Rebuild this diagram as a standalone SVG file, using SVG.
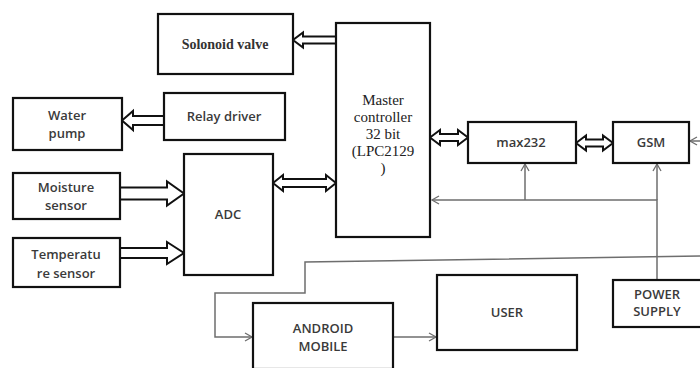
<svg xmlns="http://www.w3.org/2000/svg" width="700" height="368" viewBox="0 0 700 368">
<defs>
<style>
.box{fill:#fff;stroke:#111;stroke-width:2.2}
.blk{fill:#fff;stroke:#111;stroke-width:2;stroke-linejoin:miter}
.thin{fill:none;stroke:#6e6e6e;stroke-width:1.5}
.serif{font-family:"Liberation Serif","Times New Roman",serif;font-weight:bold;font-size:14px;fill:#333;text-anchor:middle}
.mc{font-family:"Liberation Serif","Times New Roman",serif;font-size:15px;fill:#222;text-anchor:middle}
.sans{font-family:"Open Sans","Liberation Sans",Arial,sans-serif;font-weight:600;font-size:13px;fill:#3a3a3a;text-anchor:middle}
</style>
<marker id="ah" markerWidth="10" markerHeight="10" refX="8" refY="5" orient="auto" markerUnits="userSpaceOnUse">
<path d="M1,1 L8,5 L1,9" fill="none" stroke="#6e6e6e" stroke-width="1.3"/>
</marker>
</defs>
<rect width="700" height="368" fill="#fff"/>

<g id="connectors">
<path class="blk" d="M336,36.5 L303,36.5 L303,32.5 L293,40 L303,47.5 L303,43.5 L336,43.5"/>
<path class="blk" d="M164,116 L133,116 L133,111 L122,120.5 L133,130 L133,125 L164,125"/>
<path class="blk" d="M120,187.5 L167,187.5 L167,181.5 L184,193.5 L167,205.5 L167,199.5 L120,199.5"/>
<path class="blk" d="M120,248 L167,248 L167,242 L184,253 L167,264 L167,258 L120,258"/>
<path class="blk" d="M273,183 L283,175 L283,179 L326,179 L326,175 L336,183 L326,191 L326,187 L283,187 L283,191 Z"/>
<path class="blk" d="M430,137.5 L440,130 L440,134 L458,134 L458,130 L468,137.5 L458,145 L458,141 L440,141 L440,145 Z"/>
<path class="blk" d="M576,143 L586,135.5 L586,139.5 L603,139.5 L603,135.5 L613,143 L603,150.5 L603,146.5 L586,146.5 L586,150.5 Z"/>
<path class="thin" d="M657,280 L657,200 L432,200" marker-end="url(#ah)"/>
<path class="thin" d="M525,200 L525,164" marker-end="url(#ah)"/>
<path class="thin" d="M657,200 L657,164" marker-end="url(#ah)"/>
<path class="thin" d="M700,141 L690,141" marker-end="url(#ah)"/>
<path class="thin" d="M700,256 L305,262 L305,293 L215,293 L215,337 L252,337" marker-end="url(#ah)"/>
<path class="thin" d="M393,337 L436,337" marker-end="url(#ah)"/>
</g>

<g id="solonoid-valve"><rect class="box" x="158" y="14" width="135" height="60"/><text class="serif" x="225" y="49">Solonoid valve</text></g>
<g id="master-controller"><rect class="box" x="336" y="23" width="94" height="214"/>
<text class="mc" x="383" y="105">Master</text>
<text class="mc" x="383" y="122">controller</text>
<text class="mc" x="383" y="139">32 bit</text>
<text class="mc" x="383" y="156">(LPC2129</text>
<text class="mc" x="383" y="173">)</text></g>
<g id="relay-driver"><rect class="box" x="164" y="93" width="121" height="47"/><text class="sans" x="224" y="121">Relay driver</text></g>
<g id="water-pump"><rect class="box" x="13" y="98" width="109" height="52"/><text class="sans" x="67" y="120">Water</text><text class="sans" x="67" y="138">pump</text></g>
<g id="moisture-sensor"><rect class="box" x="13" y="173" width="107" height="46"/><text class="sans" x="66" y="192">Moisture</text><text class="sans" x="66" y="210">sensor</text></g>
<g id="temperature-sensor"><rect class="box" x="13" y="238" width="107" height="49"/><text class="sans" x="66" y="259">Temperatu</text><text class="sans" x="66" y="278">re sensor</text></g>
<g id="adc"><rect class="box" x="184" y="154" width="89" height="121"/><text class="sans" x="228" y="219">ADC</text></g>
<g id="max232"><rect class="box" x="468" y="122" width="108" height="41"/><text class="sans" x="521" y="147">max232</text></g>
<g id="gsm"><rect class="box" x="613" y="122" width="76" height="41"/><text class="sans" x="651" y="147">GSM</text></g>
<g id="power-supply"><rect class="box" x="613" y="280" width="92" height="47"/><text class="sans" x="657" y="299">POWER</text><text class="sans" x="657" y="316">SUPPLY</text></g>
<g id="android-mobile"><rect class="box" x="253" y="303" width="140" height="66"/><text class="sans" x="323" y="333">ANDROID</text><text class="sans" x="323" y="351">MOBILE</text></g>
<g id="user"><rect class="box" x="437" y="275" width="140" height="75"/><text class="sans" x="507" y="317">USER</text></g>
</svg>
